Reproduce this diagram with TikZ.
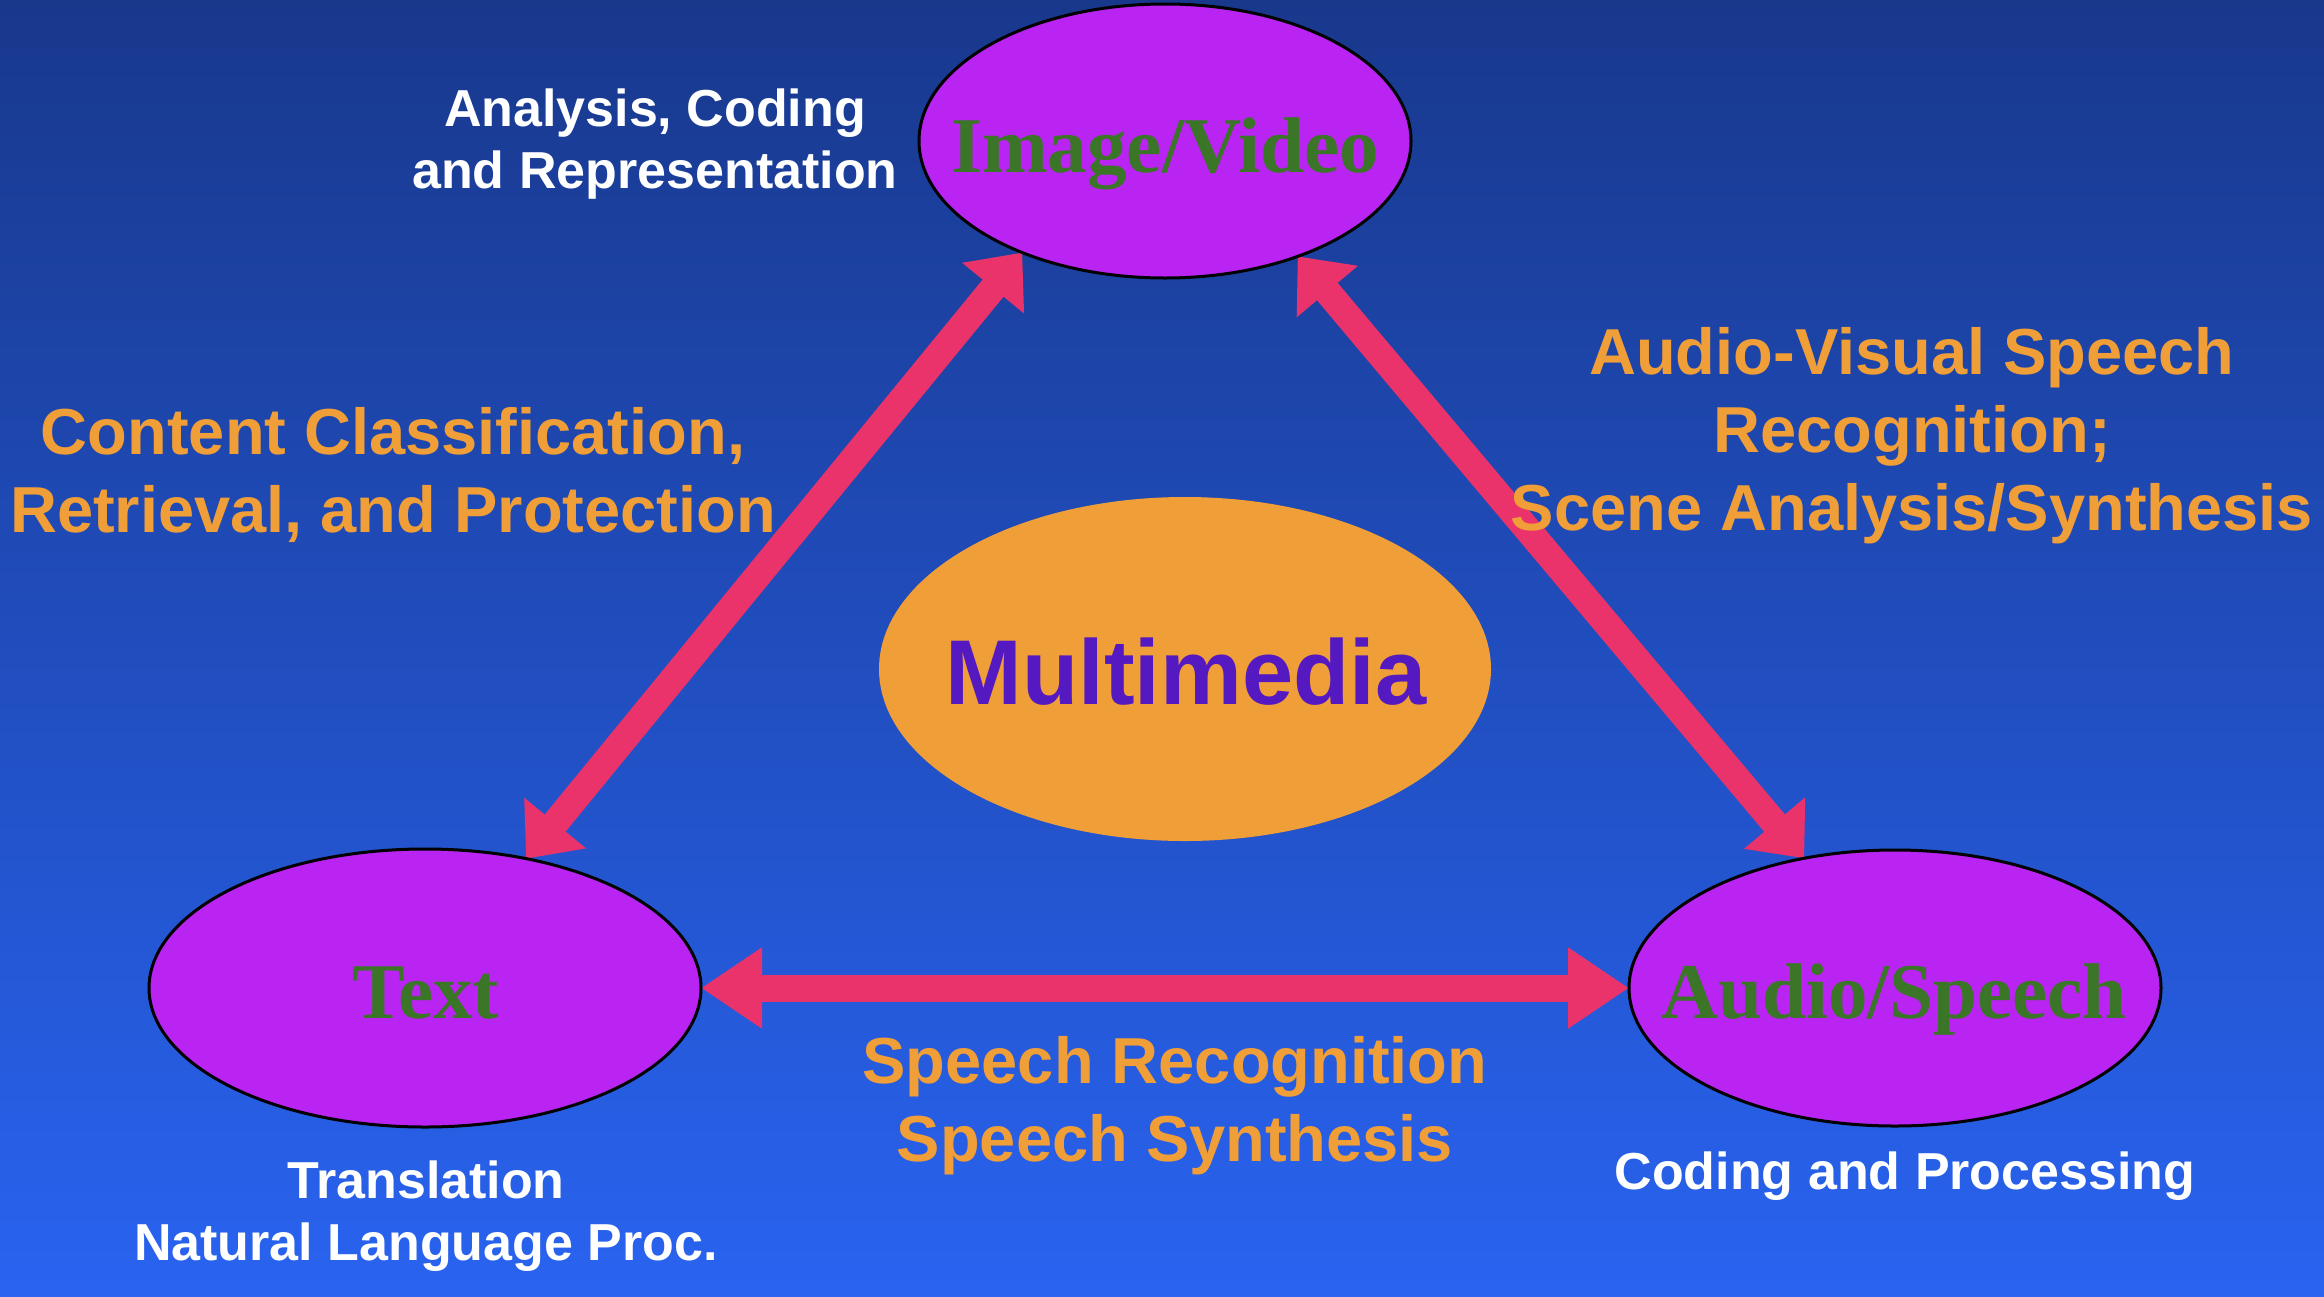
\documentclass[tikz,border=0pt]{standalone}
\usepackage{fontspec}
\setmainfont{Liberation Sans}
\newfontfamily\headfont{Liberation Serif}
\usetikzlibrary{shapes.geometric,arrows.meta}

\definecolor{bgtop}{RGB}{24,56,140}
\definecolor{bgbot}{RGB}{41,99,240}
\definecolor{hubfill}{RGB}{186,36,242}
\definecolor{hubtext}{RGB}{59,117,39}
\definecolor{labelorange}{RGB}{240,158,55}
\definecolor{coreink}{RGB}{84,25,192}
\definecolor{linkpink}{RGB}{233,51,106}

\pgfdeclarelayer{back}
\pgfdeclarelayer{links}
\pgfsetlayers{back,links,main}

\begin{document}
\begin{tikzpicture}[x=1pt,y=-1pt,
  hub/.style={ellipse, draw=black, line width=3pt, fill=hubfill, inner sep=0pt, outer sep=0pt},
  hubname/.style={font=\headfont\bfseries\fontsize{79}{90}\selectfont, text=hubtext, anchor=base, inner sep=0pt},
  core/.style={ellipse, fill=labelorange, inner sep=0pt, outer sep=0pt},
  corename/.style={font=\bfseries\fontsize{92}{110}\selectfont, text=coreink, anchor=base, inner sep=0pt},
  topic/.style={font=\bfseries\fontsize{65}{78}\selectfont, text=labelorange, align=center, inner sep=0pt},
  note/.style={font=\bfseries\fontsize{52}{62}\selectfont, text=white, align=center, inner sep=0pt},
  link/.style={draw=linkpink, line width=27pt, >={Triangle[length=46pt,width=77pt]}, <->},
]
\useasboundingbox (0,0) rectangle (2324,1296);

% backdrop
\begin{pgfonlayer}{back}
  \shade[top color=bgtop, bottom color=bgbot] (0,0) rectangle (2324,1296);
\end{pgfonlayer}

% the three media and the hub between them
\node[hub, minimum width=492pt, minimum height=274pt] (img) at (1165,141) {};
\node[hub, minimum width=552pt, minimum height=278pt] (txt) at (425,988) {};
\node[hub, minimum width=532pt, minimum height=276pt] (aud) at (1895,988) {};
\node[core, minimum width=612pt, minimum height=344pt] (mm) at (1185,669) {};

\node[hubname] (imgname) at (1165,172) {Image/Video};
\node[hubname] (txtname) at (426,1018) {Text};
\node[hubname] (audname) at (1894,1018) {Audio/Speech};
\node[corename] (mmname) at (1186,704) {Multimedia};

% double-headed links between the media
\begin{pgfonlayer}{links}
  \draw[link] (img.218.4) -- (txt.52.7);
  \draw[link] (img.319.1) -- (aud.125.6);
  \draw[link, >={Triangle[length=61pt,width=77pt]}] (txt.east) -- (aud.west);
\end{pgfonlayer}

% research topics on the links
\node[topic] (t1) at (393,475) {Content Classification,\\Retrieval, and Protection};
\node[topic] (t2) at (1912,436) {Audio-Visual Speech\\Recognition;\\Scene Analysis/Synthesis};
\node[topic] (t3) at (1175,1106) {Speech Recognition\\Speech Synthesis};

% topics of each single medium
\node[note] (n1) at (655,144) {Analysis, Coding\\and Representation};
\node[note] (n2) at (426,1216) {Translation\\Natural Language Proc.};
\node[note] (n3) at (1905,1176) {Coding and Processing};
\end{tikzpicture}
\end{document}
